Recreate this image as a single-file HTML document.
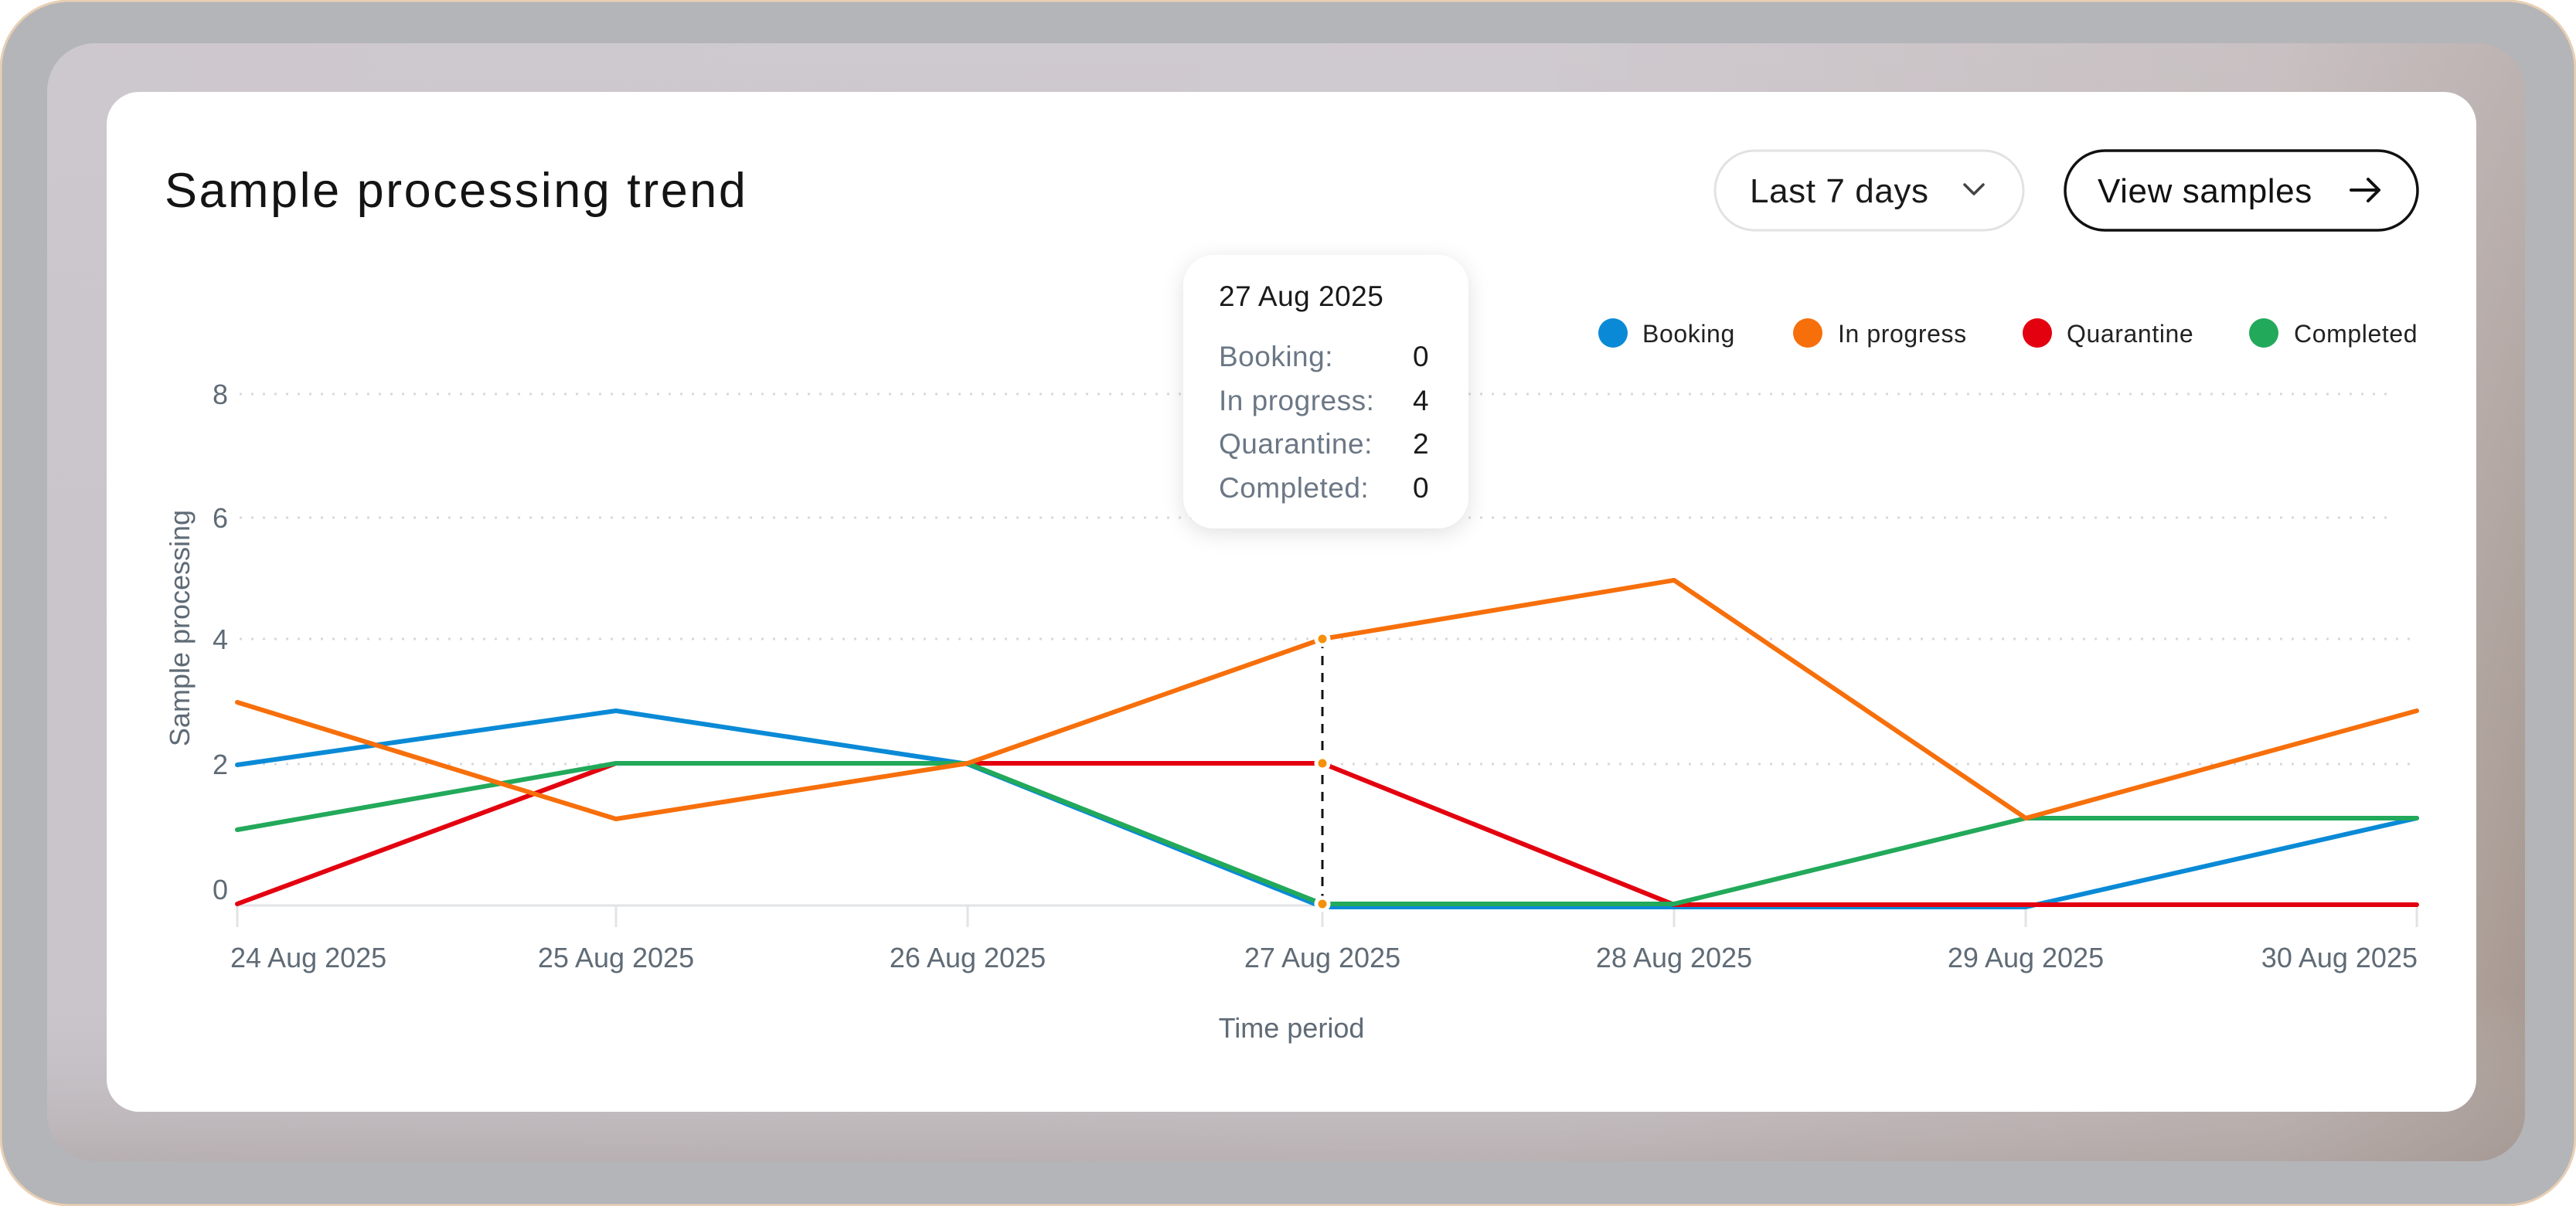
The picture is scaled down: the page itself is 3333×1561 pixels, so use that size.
<!DOCTYPE html>
<html><head><meta charset="utf-8"><style>
html,body{margin:0;padding:0;width:3333px;height:1561px;overflow:hidden;background:#fff}
</style></head><body>
<svg width="3333" height="1561" viewBox="0 0 3333 1561" xmlns="http://www.w3.org/2000/svg" font-family="'Liberation Sans', sans-serif">
<defs>
<linearGradient id="bg" x1="0" y1="0" x2="1" y2="0">
<stop offset="0" stop-color="#c9c5cb"/><stop offset="0.6" stop-color="#cdc8cd"/><stop offset="0.9" stop-color="#bfb5b2"/><stop offset="1" stop-color="#a89a92"/>
</linearGradient>
<linearGradient id="bg2" x1="0" y1="0" x2="0" y2="1">
<stop offset="0" stop-color="#d2ccd2" stop-opacity="0.5"/><stop offset="0.85" stop-color="#c6c0c4" stop-opacity="0"/><stop offset="1" stop-color="#a59a98" stop-opacity="0.5"/>
</linearGradient>
<filter id="sh" x="-20%" y="-20%" width="140%" height="140%"><feDropShadow dx="0" dy="6" stdDeviation="14" flood-color="#000" flood-opacity="0.12"/></filter>
</defs>
<rect x="1" y="1" width="3331" height="1559" rx="88" fill="#b4b5b8" stroke="#e8cfb4" stroke-width="3"/>
<rect x="61" y="56" width="3206" height="1447" rx="62" fill="url(#bg)"/>
<rect x="61" y="56" width="3206" height="1447" rx="62" fill="url(#bg2)"/>
<rect x="138" y="119" width="3066" height="1320" rx="42" fill="#fff"/>

<text x="213" y="268" font-size="63" letter-spacing="2.5" fill="#141414">Sample processing trend</text>

<rect x="2219" y="195" width="399" height="103" rx="51.5" fill="#fff" stroke="#e2e2e2" stroke-width="3"/>
<text x="2264" y="262" font-size="44" letter-spacing="0.6" fill="#1a1a1a">Last 7 days</text>
<path d="M2542 239 L2554 251 L2566 239" fill="none" stroke="#444" stroke-width="3.5" stroke-linecap="round" stroke-linejoin="round"/>
<rect x="2672" y="195" width="456" height="103" rx="51.5" fill="#fff" stroke="#111" stroke-width="3.5"/>
<text x="2714" y="262" font-size="44" letter-spacing="0.6" fill="#111">View samples</text>
<path d="M3042 246 H3078 M3064 232 L3078 246 L3064 260" fill="none" stroke="#111" stroke-width="4" stroke-linecap="round" stroke-linejoin="round"/>

<g font-size="32" fill="#222" letter-spacing="0.6">
<circle cx="2087" cy="431" r="19" fill="#0a8ad6"/><text x="2125" y="443">Booking</text>
<circle cx="2339" cy="431" r="19" fill="#f76f0b"/><text x="2378" y="443">In progress</text>
<circle cx="2636" cy="431" r="19" fill="#e3000f"/><text x="2674" y="443">Quarantine</text>
<circle cx="2929" cy="431" r="19" fill="#22a95a"/><text x="2968" y="443">Completed</text>
</g>

<g stroke="#d6d9dc" stroke-width="3" stroke-dasharray="3 12">
<line x1="310" y1="510" x2="3100" y2="510"/>
<line x1="310" y1="670" x2="3100" y2="670"/>
<line x1="310" y1="827" x2="3128" y2="827"/>
<line x1="310" y1="989" x2="3128" y2="989"/>
</g>
<line x1="305" y1="1172" x2="3128" y2="1172" stroke="#e1e3e5" stroke-width="3"/>
<g stroke="#e1e3e5" stroke-width="3">
<line x1="307" y1="1172" x2="307" y2="1200"/><line x1="797" y1="1172" x2="797" y2="1200"/><line x1="1252" y1="1172" x2="1252" y2="1200"/><line x1="1711" y1="1172" x2="1711" y2="1200"/><line x1="2166" y1="1172" x2="2166" y2="1200"/><line x1="2621" y1="1172" x2="2621" y2="1200"/><line x1="3127" y1="1172" x2="3127" y2="1200"/>
</g>
<g font-size="36" fill="#5f6b76">
<text x="285" y="523" text-anchor="middle">8</text>
<text x="285" y="683" text-anchor="middle">6</text>
<text x="285" y="840" text-anchor="middle">4</text>
<text x="285" y="1002" text-anchor="middle">2</text>
<text x="285" y="1164" text-anchor="middle">0</text>
<text x="298" y="1252">24 Aug 2025</text>
<text x="797" y="1252" text-anchor="middle">25 Aug 2025</text>
<text x="1252" y="1252" text-anchor="middle">26 Aug 2025</text>
<text x="1711" y="1252" text-anchor="middle">27 Aug 2025</text>
<text x="2166" y="1252" text-anchor="middle">28 Aug 2025</text>
<text x="2621" y="1252" text-anchor="middle">29 Aug 2025</text>
<text x="3128" y="1252" text-anchor="end">30 Aug 2025</text>
<text x="1671" y="1343" text-anchor="middle">Time period</text>
<text transform="translate(245,813) rotate(-90)" text-anchor="middle">Sample processing</text>
</g>

<g fill="none" stroke-width="6" stroke-linejoin="round" stroke-linecap="round">
<polyline stroke="#0a8ad6" points="307,990 797,920 1252,989 1711,1174 2166,1174 2621,1174 3127,1059"/>
<polyline stroke="#e3000f" points="307,1170 797,988 1252,988 1711,988 2166,1171 2621,1171 3127,1171"/>
<polyline stroke="#22a95a" points="307,1074 797,988 1252,988 1711,1170 2166,1170 2621,1059 3127,1059"/>
<polyline stroke="#f76f0b" points="307,909 797,1060 1252,988 1711,827 2166,751 2621,1059 3127,920"/>
</g>
<line x1="1711" y1="827" x2="1711" y2="1170" stroke="#111" stroke-width="3" stroke-dasharray="12 10"/>
<g stroke="#fff" stroke-width="5" fill="#f5900b">
<circle cx="1711" cy="827" r="8"/><circle cx="1711" cy="988" r="8"/><circle cx="1711" cy="1170" r="8"/>
</g>

<rect x="1531" y="330" width="369" height="354" rx="40" fill="#fff" filter="url(#sh)"/>
<g font-size="37" letter-spacing="0.5">
<text x="1577" y="396" fill="#1a1a1a">27 Aug 2025</text>
<text x="1577" y="474" fill="#6b7785">Booking:</text>
<text x="1577" y="531" fill="#6b7785">In progress:</text>
<text x="1577" y="587" fill="#6b7785">Quarantine:</text>
<text x="1577" y="644" fill="#6b7785">Completed:</text>
<text x="1828" y="474" fill="#1a1a1a">0</text>
<text x="1828" y="531" fill="#1a1a1a">4</text>
<text x="1828" y="587" fill="#1a1a1a">2</text>
<text x="1828" y="644" fill="#1a1a1a">0</text>
</g>
</svg>
</body></html>
